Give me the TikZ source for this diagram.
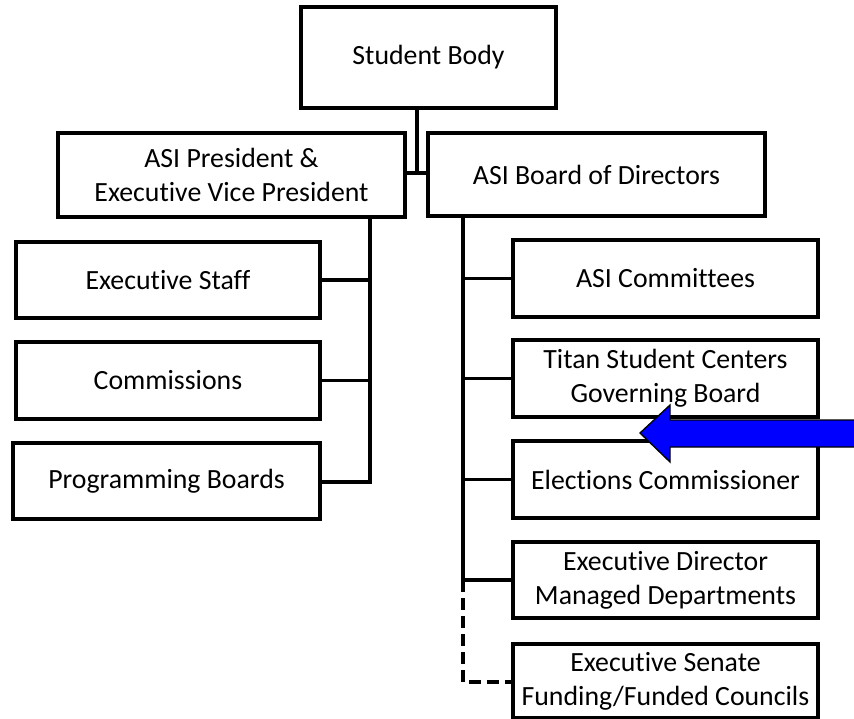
\documentclass[tikz,border=0pt]{standalone}
\usepackage{fontspec}
\setmainfont{Carlito}[Ligatures=NoCommon]
\begin{document}
\begin{tikzpicture}[x=1pt,y=-1pt,
  box/.style={draw=black, line width=3.3pt, fill=white, inner sep=0pt, align=center,
    font=\fontsize{27.8}{34}\selectfont},
  conn/.style={draw=black, line width=3.3pt},
  dconn/.style={conn, dash pattern=on 12pt off 6pt}]
\useasboundingbox (0,0) rectangle (854,719);
% boxes
\node[box, minimum width=255pt, minimum height=101pt] (sb) at (428.5,57.5) {Student Body};
\node[box, minimum width=347pt, minimum height=84pt] (pres) at (231.5,175) {ASI President \&\\Executive Vice President};
\node[box, minimum width=337pt, minimum height=83pt] (board) at (596.5,174.5) {ASI Board of Directors};
\node[box, minimum width=304pt, minimum height=76pt] (staff) at (168,280) {Executive Staff};
\node[box, minimum width=304pt, minimum height=77pt] (comm) at (168,380.5) {Commissions};
\node[box, minimum width=307pt, minimum height=76pt] (prog) at (166.5,481) {Programming Boards};
\node[box, minimum width=305pt, minimum height=77pt] (comt) at (665.5,278.5) {ASI Committees};
\node[box, minimum width=305pt, minimum height=77pt] (titan) at (665.5,378.5) {Titan Student Centers\\Governing Board};
\node[box, minimum width=305pt, minimum height=77pt] (elec) at (665.5,479.5) {Elections Commissioner};
\node[box, minimum width=305pt, minimum height=76pt] (edir) at (665.5,580) {Executive Director\\Managed Departments};
\node[box, minimum width=305pt, minimum height=74pt] (sen) at (665.5,681) {Executive Senate\\Funding/Funded Councils};
% junction coordinates
\coordinate (j) at (417,173);
\coordinate (lt) at (370,482);
\coordinate (rt) at (463,580);
\coordinate (rd) at (463,682);
% top connectors
\draw[conn] (sb.south -| j) -- (j);
\draw[conn] (pres.east |- j) -- (board.west |- j);
% left trunk
\draw[conn] (pres.south -| lt) -- (lt) -- (prog.east |- lt);
\draw[conn] (staff.east) -- (staff.east -| lt);
\draw[conn] (comm.east) -- (comm.east -| lt);
% right trunk
\draw[conn] (board.south -| rt) -- (rt) -- (edir.west |- rt);
\draw[conn] (comt.west) -- (comt.west -| rt);
\draw[conn] (titan.west) -- (titan.west -| rt);
\draw[conn] (elec.west) -- (elec.west -| rt);
\draw[dconn] (rt) -- (rd) -- (sen.west |- rd);
% blue arrow
\filldraw[fill=blue, draw=black, line width=1.3pt, line join=miter]
  (870,420) -- (670,420) -- (670,405) -- (640,433) -- (670,462) -- (670,447) -- (870,447) -- cycle;
\end{tikzpicture}
\end{document}
